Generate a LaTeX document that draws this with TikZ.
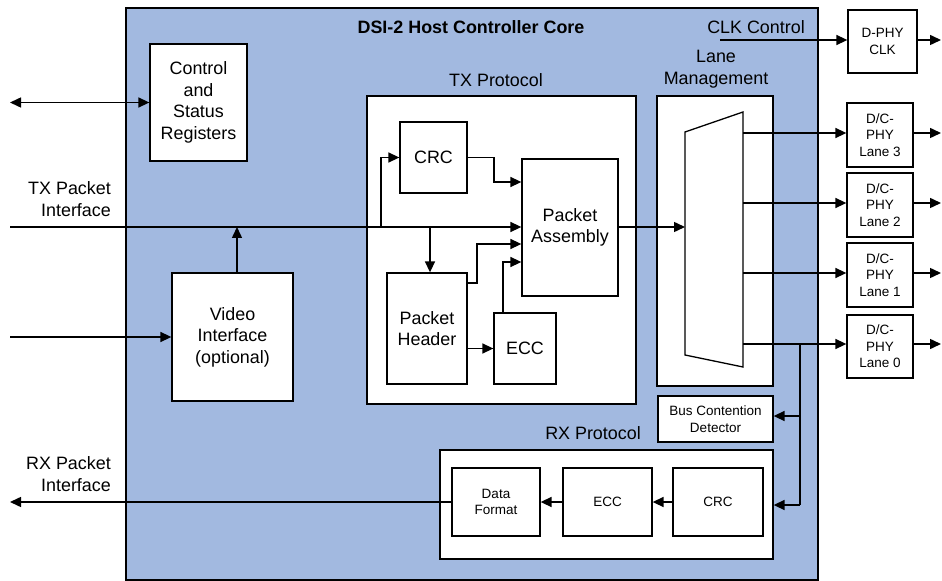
\documentclass[tikz,border=0pt]{standalone}
\usepackage{fontspec}
\setmainfont{Liberation Sans}
\usetikzlibrary{arrows.meta,calc}
\definecolor{coreblue}{RGB}{162,185,224}
\newcommand\bigf{\fontsize{17.9bp}{21.5bp}\selectfont}
\newcommand\smallf{\fontsize{13.5bp}{16.5bp}\selectfont}
\newcommand\mkbox[7][]{\node[box,#1,minimum width={(#5-#3)*1bp},minimum height={(#6-#4)*1bp}] (#2) at ({(#3+#5)/2},{(#4+#6)/2}) {#7};}
\begin{document}
\begin{tikzpicture}[x=1bp,y=-1bp,
  box/.style={draw,fill=white,line width=1.3bp,inner sep=0pt,align=center,font=\bigf},
  tip/.tip={Triangle[length=11bp,width=10bp]},
  arr/.style={line width=1.5bp,-tip},
  barr/.style={line width=1.5bp,tip-tip},
  ln/.style={line width=1.5bp},
  lbl/.style={font=\bigf,inner sep=0pt,align=center}]
\useasboundingbox (0,0) rectangle (942,581);
% core
\mkbox[fill=coreblue,line width=1.2bp]{core}{126}{8}{818}{580}{}
\node[lbl,font=\bigf\bfseries] (title) at (471,27) {DSI-2 Host Controller Core};
\node[lbl] (clklbl) at (756,27) {CLK Control};
\node[lbl] (txlbl) at (496,80) {TX Protocol};
\node[lbl] (lmlbl) at (716,69) {Lane\\Management};
\node[lbl] (rxlbl) at (593,433) {RX Protocol};
\node[lbl,align=right,anchor=east] (txif) at (111,199) {TX Packet\\Interface};
\node[lbl,align=right,anchor=east] (rxif) at (111,474) {RX Packet\\Interface};
% boxes
\mkbox{csr}{150}{44}{247}{161}{Control\\and\\Status\\Registers}
\mkbox{vid}{172}{273}{293}{401}{Video\\Interface\\(optional)}
\mkbox{txp}{367}{96}{636}{404}{}
\mkbox{crc}{400}{122}{467}{193}{CRC}
\mkbox{pa}{522}{159}{618}{296}{Packet\\Assembly}
\mkbox{ph}{387}{273}{467}{384}{Packet\\Header}
\mkbox{ecc}{494}{313}{556}{384}{ECC}
\mkbox{lm}{657}{96}{773}{386}{}
\mkbox[font=\smallf]{bcd}{658}{396}{773}{442}{Bus Contention\\Detector}
\mkbox{rxp}{440}{450}{773}{559}{}
\mkbox[font=\smallf]{df}{452}{468}{540}{536}{Data\\Format}
\mkbox[font=\smallf]{recc}{563}{468}{652}{536}{ECC}
\mkbox[font=\smallf]{rcrc}{673}{468}{763}{536}{CRC}
\mkbox[font=\smallf]{clk}{848}{10}{917}{73}{D-PHY\\CLK}
\mkbox[font=\smallf]{phy3}{847}{103}{913}{167}{D/C-\\PHY\\Lane 3}
\mkbox[font=\smallf]{phy2}{847}{173}{913}{237}{D/C-\\PHY\\Lane 2}
\mkbox[font=\smallf]{phy1}{847}{243}{913}{307}{D/C-\\PHY\\Lane 1}
\mkbox[font=\smallf]{phy0}{847}{315}{913}{378}{D/C-\\PHY\\Lane 0}
% mux
\draw[fill=white,line width=1.3bp] (685,132) coordinate (muxl) -- (743,112) coordinate (muxr) -- (743,367) -- (685,355) -- cycle;
% coordinates
\coordinate (csrin) at (10,102.5);
\coordinate (txin) at (10,227);
\coordinate (vin) at (10,337);
\coordinate (rxout) at (10,502);
\coordinate (b1) at (381,227);
\coordinate (b2) at (430,227);
\coordinate (vup) at (237,227);
\coordinate (c1) at (494,182);
\coordinate (p0) at (477,283);
\coordinate (p1) at (477,244);
\coordinate (e1) at (503,262);
\coordinate (mo3) at (743,133);
\coordinate (mo2) at (743,203);
\coordinate (mo1) at (743,273);
\coordinate (mo0) at (743,344);
\coordinate (tap) at (800,344);
\coordinate (tapb) at (800,416);
\coordinate (tapr) at (800,505);
\coordinate (clkin) at (720,40);
\coordinate (edge) at (941,0);
% left side
\draw[barr] (csrin) -- (csrin -| csr.west);
\draw[arr] (txin) -- (txin -| pa.west);
\draw[arr] (vin) -- (vid.west |- vin);
\draw[arr] (vid.north -| vup) -- (vup);
% TX protocol
\draw[arr] (b1) |- (crc.west);
\draw[arr] (b2) -- (b2 |- ph.north);
\draw[arr] (crc.east) -| (c1) -- (c1 -| pa.west);
\draw[arr] (p0 -| ph.east) -- (p0) -- (p1) -- (p1 -| pa.west);
\draw[arr] (ecc.north -| e1) -- (e1) -- (e1 -| pa.west);
\draw[arr] (ph.east |- ecc.west) -- (ecc.west);
\draw[arr] (pa.east |- txin) -- (txin -| muxl);
% lanes
\draw[arr] (mo3) -- (mo3 -| phy3.west);
\draw[arr] (mo2) -- (mo2 -| phy2.west);
\draw[arr] (mo1) -- (mo1 -| phy1.west);
\draw[arr] (mo0) -- (mo0 -| phy0.west);
\draw[arr] (phy3.east |- mo3) -- (mo3 -| edge);
\draw[arr] (phy2.east |- mo2) -- (mo2 -| edge);
\draw[arr] (phy1.east |- mo1) -- (mo1 -| edge);
\draw[arr] (phy0.east |- mo0) -- (mo0 -| edge);
\draw[arr] (clkin) -- (clkin -| clk.west);
\draw[arr] (clk.east |- clkin) -- (clkin -| edge);
% RX
\draw[ln] (tap) -- (tapr);
\draw[arr] (tapr) -- (tapr -| rxp.east);
\draw[arr] (tapb) -- (tapb -| bcd.east);
\draw[arr] (rcrc.west) -- (recc.east);
\draw[arr] (recc.west) -- (df.east);
\draw[arr] (df.west) -- (rxout);
\end{tikzpicture}
\end{document}
